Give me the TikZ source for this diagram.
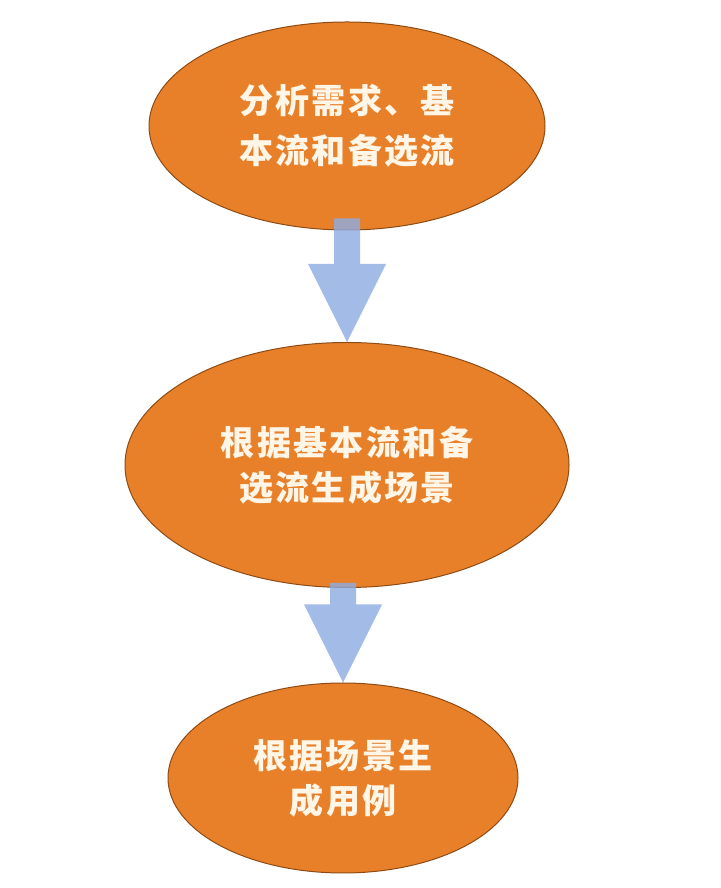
\documentclass[tikz,border=0pt]{standalone}
\usepackage{fontspec}
\newfontfamily\cjk[LetterSpace=7]{Noto Sans CJK SC}
\usepackage{tikz}
\usetikzlibrary{calc, shapes.geometric}
\usepackage{xcolor}
\definecolor{StepOrange}{HTML}{E8802A}
\definecolor{StepBrown}{HTML}{8E4C14}
\definecolor{FlowBlue}{HTML}{8DACE2}
\definecolor{TextCream}{HTML}{FFF6E8}

\tikzset{
  stepbox/.style={ellipse, draw=StepBrown, line width=1pt, fill=StepOrange,
                  inner sep=0pt, align=center, text=TextCream,
                  font=\cjk\bfseries\fontsize{34pt}{45pt}\selectfont},
  flowarrow/.style={fill=FlowBlue, fill opacity=0.8, draw=none}
}

\begin{document}
\begin{tikzpicture}[x=1pt, y=1pt]
  \useasboundingbox[fill=white] (0,0) rectangle (720,888);

  % the three steps
  \node[stepbox, minimum width=396pt, minimum height=208pt,
        font=\cjk\bfseries\fontsize{34pt}{50pt}\selectfont] (analyse) at (347,762)
        {分析需求、基\\本流和备选流};
  \node[stepbox, minimum width=444pt, minimum height=245pt] (scenes) at (347,423)
        {根据基本流和备\\选流生成场景};
  \node[stepbox, minimum width=350pt, minimum height=190pt] (cases) at (343,110)
        {根据场景生\\成用例};

  % block arrows between the steps
  \foreach \from/\to/\lap in {analyse/scenes/12pt, scenes/cases/5pt} {
    \path[flowarrow] let \p1=($(\from.south)+(0,\lap)$), \p2=(\to.north) in
      (\x2-13pt,\y1) -- (\x2+13pt,\y1) -- (\x2+13pt,\y2+78pt)
      -- (\x2+39pt,\y2+78pt) -- (\x2,\y2) -- (\x2-39pt,\y2+78pt)
      -- (\x2-13pt,\y2+78pt) -- cycle;
  }
\end{tikzpicture}
\end{document}
